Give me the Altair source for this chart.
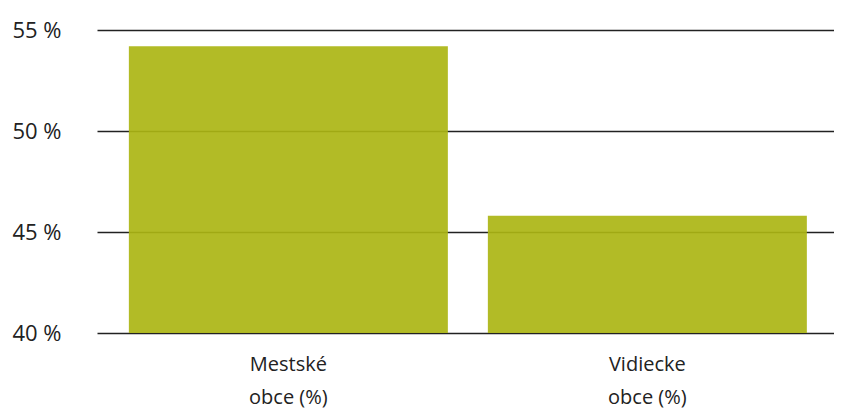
import altair as alt
import pandas as pd

categories = ["Mestské\nobce (%)", "Vidiecke\nobce (%)"]
values = [54.2, 45.8]
y_ticks = [40, 45, 50, 55]

df = pd.DataFrame({"cat": categories, "val": values})

chart = alt.Chart(df).mark_bar(color="#abb513", fillOpacity=0.92).encode(
    x=alt.X("cat:N", sort=categories, title=None,
            scale=alt.Scale(paddingInner=0.1114, paddingOuter=0.0822, align=0.54),
            axis=alt.Axis(labelAngle=0, labelExpr="split(datum.label, '\\n')",
                          labelLineHeight=33, labelFontSize=20, labelFont="Open Sans",
                          labelColor="#222", labelPadding=21, ticks=False, domain=False,
                          labelFontWeight="normal")),
    y=alt.Y("val:Q", title=None,
            scale=alt.Scale(domain=[40, 55], nice=False, clamp=True),
            axis=alt.Axis(values=y_ticks, labelExpr="datum.value + ' %'",
                          labelAlign="left", labelPadding=85, tickSize=0, ticks=False,
                          domain=False, grid=True, gridColor="#222", gridWidth=1.5,
                          labelFontSize=22, labelFont="Open Sans", labelColor="#222")),
).properties(
    width=737, height=303,
    autosize=alt.AutoSizeParams(type="none"),
    padding={"left": 89, "top": 22, "right": 0, "bottom": 76},
).configure_view(stroke=None)

chart.save("out.html", embed_options={"renderer": "svg", "actions": False})
